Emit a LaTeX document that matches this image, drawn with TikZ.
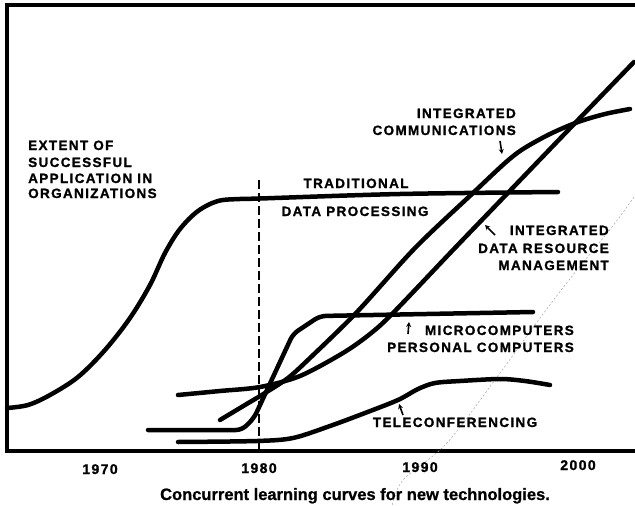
\documentclass[tikz,border=0pt]{standalone}
\usepackage{fontspec}
\setmainfont{Liberation Sans}
\newfontfamily\lblfont[LetterSpace=10, FakeBold=1.2]{Liberation Sans}
\newfontfamily\capfont[FakeBold=0.8]{Liberation Sans}
\usetikzlibrary{arrows.meta}
\begin{document}
\begin{tikzpicture}[x=1pt,y=-1pt,
  curve/.style={line width=4.5pt, line cap=round, line join=round},
  framepen/.style={line width=4.5pt},
  lbl/.style={font=\lblfont\bfseries\fontsize{13.5}{16}\selectfont, inner sep=0pt},
  yr/.style={font=\lblfont\bfseries\fontsize{14}{16}\selectfont, inner sep=0pt},
  captext/.style={font=\capfont\bfseries\fontsize{16.5}{19}\selectfont, inner sep=0pt},
  tinyarrow/.style={line width=1.6pt, -{Stealth[length=5pt,width=5pt]}},
]
\useasboundingbox (0,0) rectangle (635,506);
\fill[white] (0,0) rectangle (635,506);
% frame and axis
\draw[framepen] (7,451) -- (7,5) -- (635,5);
\draw[framepen] (5,451) -- (635,451);
% 1980 marker
\draw[line width=2pt, dash pattern=on 9pt off 4pt] (259,180) -- (259,449);
% faint scan line
\draw[gray!70, line width=0.5pt, dash pattern=on 2pt off 2pt] plot[smooth] coordinates {(634,197) (612,227) (573,275) (540,318) (500,373) (447,443) (403,480) (392,506)};
% traditional data processing
\draw[curve] plot[smooth, tension=0.55] coordinates {(7,408) (28,405) (50,395) (78,377) (105,350) (130,318) (150,285) (165,253) (180,229) (198,211) (218,201) (240,199) (260,198.5) (400,194) (558,192)};
% integrated communications
\draw[curve] plot[smooth, tension=0.5] coordinates {(220,420) (245,405) (265,393) (288,378) (310,358) (357,312) (415,248) (473,193) (505,163) (523,149) (550,134) (578,122) (605,114) (630,109)};
% integrated data resource management
\draw[curve] plot[smooth, tension=0.5] coordinates {(178,395) (220,391) (260,387) (300,376) (343,353) (370,334) (393,313) (453,250) (503,198) (577,121) (634,62)};
% microcomputers
\draw[curve, rounded corners=6pt] (148,430) -- (242,430) -- (254,418) -- (293,334) -- (320,316) -- (533,312);
% teleconferencing
\draw[curve] plot[smooth, tension=0.5] coordinates {(178,442) (257,441) (293,438) (330,426) (365,413) (398,400) (418,389) (435,383) (460,381) (500,379) (525,381) (550,385)};
% labels
\node[lbl, anchor=base west] (e1) at (28,150) {EXTENT OF};
\node[lbl, anchor=base west] (e2) at (28,167) {SUCCESSFUL};
\node[lbl, anchor=base west] (e3) at (28,183) {APPLICATION IN};
\node[lbl, anchor=base west] (e4) at (28,198) {ORGANIZATIONS};
\node[lbl, anchor=base] (t1) at (356,188) {TRADITIONAL};
\node[lbl, anchor=base] (t2) at (355,216) {DATA PROCESSING};
\node[lbl, anchor=base east] (c1) at (516,118) {INTEGRATED};
\node[lbl, anchor=base east] (c2) at (516,135) {COMMUNICATIONS};
\node[lbl, anchor=base east] (d1) at (609,235) {INTEGRATED};
\node[lbl, anchor=base east] (d2) at (609,253) {DATA RESOURCE};
\node[lbl, anchor=base east] (d3) at (609,270) {MANAGEMENT};
\node[lbl, anchor=base east] (m1) at (574,335) {MICROCOMPUTERS};
\node[lbl, anchor=base east] (m2) at (574,352) {PERSONAL COMPUTERS};
\node[lbl, anchor=base] (tc) at (455,427) {TELECONFERENCING};
% pointer arrows
\coordinate (icTip) at (502,154);
\coordinate (drTip) at (485,225);
\coordinate (mcTip) at (409,322);
\coordinate (tcTip) at (399,404);
\draw[tinyarrow] (500,141) -- (icTip);
\draw[tinyarrow] (495,235) -- (drTip);
\draw[tinyarrow] (408,334) -- (mcTip);
\draw[tinyarrow] (403,415) -- (tcTip);
% years
\node[yr, anchor=base] (y70) at (100,474) {1970};
\node[yr, anchor=base] (y80) at (259,473) {1980};
\node[yr, anchor=base] (y90) at (420,472) {1990};
\node[yr, anchor=base] (y00) at (578,470) {2000};
% caption
\node[captext, anchor=base] (capt) at (355,500) {Concurrent learning curves for new technologies.};
\end{tikzpicture}
\end{document}
